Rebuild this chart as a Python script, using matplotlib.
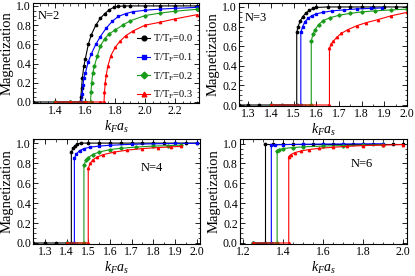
import numpy as np
import matplotlib
matplotlib.use("Agg")
import matplotlib.pyplot as plt
from matplotlib.ticker import MultipleLocator, AutoMinorLocator

plt.rcParams['font.family'] = ['Liberation Serif', 'DejaVu Serif']
plt.rcParams['mathtext.fontset'] = 'custom'
plt.rcParams['mathtext.rm'] = 'Liberation Serif'
plt.rcParams['mathtext.it'] = 'Liberation Serif:italic'

temps = ["0.0", "0.1", "0.2", "0.3"]
colors = ["black", "#0000ff", "#1a9a1a", "#ff0000"]
markers = ["o", "s", "D", "^"]

# N=2 (continuous onset)
n2_x = [
    [1.25, 1.40, 1.50, 1.565, 1.57, 1.575, 1.58, 1.59, 1.60, 1.62, 1.64, 1.67, 1.70, 1.73, 1.76, 1.79, 1.82, 1.86, 1.90, 2.0, 2.1, 2.2, 2.35],
    [1.40, 1.50, 1.575, 1.58, 1.585, 1.59, 1.60, 1.62, 1.64, 1.67, 1.70, 1.74, 1.78, 1.82, 1.87, 1.92, 2.0, 2.1, 2.2, 2.35],
    [1.40, 1.50, 1.60, 1.635, 1.638, 1.642, 1.65, 1.66, 1.68, 1.70, 1.73, 1.76, 1.80, 1.85, 1.90, 2.0, 2.1, 2.2, 2.35],
    [1.40, 1.50, 1.60, 1.70, 1.725, 1.728, 1.733, 1.74, 1.75, 1.77, 1.80, 1.83, 1.87, 1.92, 2.0, 2.1, 2.2, 2.35],
]
n2_y = [
    [0, 0, 0, 0, 0.05, 0.15, 0.25, 0.37, 0.45, 0.6, 0.7, 0.8, 0.87, 0.92, 0.96, 0.985, 0.995, 1.0, 1.0, 1.0, 1.0, 1.0, 1.0],
    [0, 0, 0, 0.08, 0.18, 0.25, 0.3, 0.42, 0.5, 0.6, 0.68, 0.77, 0.84, 0.89, 0.92, 0.94, 0.955, 0.967, 0.975, 0.985],
    [0, 0, 0, 0, 0.1, 0.2, 0.3, 0.37, 0.48, 0.58, 0.66, 0.71, 0.75, 0.80, 0.845, 0.9, 0.925, 0.945, 0.965],
    [0, 0, 0, 0, 0, 0.1, 0.2, 0.28, 0.37, 0.48, 0.57, 0.63, 0.69, 0.74, 0.8, 0.83, 0.865, 0.91],
]

# N=3
n3_x = [
    [1.26, 1.30, 1.35, 1.40, 1.45, 1.514, 1.514, 1.52, 1.53, 1.54, 1.555, 1.57, 1.585, 1.60, 1.65, 1.70, 1.75, 1.80, 1.85, 1.90, 1.95, 2.0],
    [1.40, 1.532, 1.532, 1.54, 1.55, 1.565, 1.58, 1.60, 1.63, 1.67, 1.72, 1.78, 1.84, 1.89],
    [1.40, 1.578, 1.578, 1.585, 1.595, 1.61, 1.63, 1.66, 1.70, 1.75, 1.80, 1.86, 1.93, 2.0],
    [1.40, 1.658, 1.658, 1.665, 1.675, 1.69, 1.71, 1.74, 1.78, 1.82, 1.87, 1.93, 2.0],
]
n3_y = [
    [0, 0, 0, 0, 0, 0, 0.74, 0.8, 0.86, 0.9, 0.94, 0.965, 0.985, 0.995, 1.0, 1.0, 1.0, 1.0, 1.0, 1.0, 1.0, 1.0],
    [0, 0, 0.74, 0.8, 0.85, 0.885, 0.91, 0.93, 0.945, 0.96, 0.97, 0.98, 0.985, 0.99],
    [0, 0, 0.65, 0.72, 0.77, 0.82, 0.86, 0.89, 0.915, 0.935, 0.95, 0.96, 0.97, 0.978],
    [0, 0, 0.58, 0.62, 0.65, 0.69, 0.73, 0.77, 0.81, 0.84, 0.87, 0.91, 0.945],
]

# N=4
n4_x = [
    [1.245, 1.30, 1.35, 1.40, 1.422, 1.422, 1.43, 1.44, 1.45, 1.465, 1.50, 1.55, 1.60, 1.65, 1.70, 1.75, 1.80, 1.85, 1.90, 1.95, 2.0],
    [1.40, 1.436, 1.436, 1.445, 1.46, 1.48, 1.51, 1.55, 1.60, 1.70, 1.80, 1.90, 2.0],
    [1.40, 1.48, 1.48, 1.49, 1.50, 1.52, 1.55, 1.60, 1.65, 1.72, 1.80, 1.87, 1.93],
    [1.40, 1.50, 1.50, 1.51, 1.52, 1.54, 1.57, 1.62, 1.68, 1.75, 1.82, 1.88, 1.93],
]
n4_y = [
    [0, 0, 0, 0, 0, 0.91, 0.95, 0.975, 0.99, 1.0, 1.0, 1.0, 1.0, 1.0, 1.0, 1.0, 1.0, 1.0, 1.0, 1.0, 1.0],
    [0, 0, 0.85, 0.89, 0.925, 0.945, 0.96, 0.97, 0.978, 0.988, 0.993, 0.996, 0.998],
    [0, 0, 0.78, 0.83, 0.855, 0.885, 0.91, 0.935, 0.948, 0.96, 0.97, 0.975, 0.98],
    [0, 0, 0.75, 0.8, 0.83, 0.86, 0.885, 0.91, 0.93, 0.945, 0.955, 0.962, 0.967],
]

# N=6
n6_x = [
    [1.25, 1.309, 1.309, 1.35, 1.40, 1.45, 1.50, 1.55, 1.60, 1.65, 1.70, 1.75, 1.80, 1.85, 1.90, 1.95, 2.0],
    [1.25, 1.342, 1.342, 1.36, 1.40, 1.50, 1.60, 1.70, 1.80, 1.90],
    [1.25, 1.371, 1.371, 1.38, 1.40, 1.45, 1.50, 1.60, 1.70, 1.80, 1.90],
    [1.25, 1.429, 1.429, 1.44, 1.46, 1.49, 1.53, 1.58, 1.65, 1.72, 1.80, 1.90, 2.0],
]
n6_y = [
    [0, 0, 1.0, 1.0, 1.0, 1.0, 1.0, 1.0, 1.0, 1.0, 1.0, 1.0, 1.0, 1.0, 1.0, 1.0, 1.0],
    [0, 0, 0.983, 0.987, 0.99, 0.993, 0.995, 0.996, 0.997, 0.998],
    [0, 0, 0.93, 0.94, 0.95, 0.96, 0.967, 0.975, 0.98, 0.984, 0.987],
    [0, 0, 0.87, 0.89, 0.91, 0.925, 0.94, 0.952, 0.963, 0.972, 0.98, 0.985, 0.99],
]

panels = [
    # data x, data y, label, label pos, xlim, ylim, x major, rect
    (n2_x, n2_y, "N=2", (1.28, 0.86), (1.25, 2.36), (-0.01, 1.03), 0.2, [0.0795, 0.627, 0.40, 0.362]),
    (n3_x, n3_y, "N=3", (1.285, 0.86), (1.26, 2.0), (-0.01, 1.04), 0.1, [0.576, 0.616, 0.405, 0.373]),
    (n4_x, n4_y, "N=4", (1.74, 0.72), (1.245, 2.015), (-0.01, 1.04), 0.1, [0.0795, 0.116, 0.402, 0.38]),
    (n6_x, n6_y, "N=6", (1.74, 0.76), (1.185, 2.02), (-0.01, 1.045), 0.2, [0.578, 0.116, 0.403, 0.38]),
]

fig = plt.figure(figsize=(4.15, 2.76), dpi=100)

for i, (xs, ys, name, pos, xl, yl, xmaj, rect) in enumerate(panels):
    ax = fig.add_axes(rect)
    for j in range(4):
        ax.plot(xs[j], ys[j], color=colors[j], marker=markers[j], markersize=1.7,
                linewidth=0.8, label="T/T$_\\mathrm{F}$=" + temps[j])
    ax.set_xlim(*xl)
    ax.set_ylim(*yl)
    ax.xaxis.set_major_locator(MultipleLocator(xmaj))
    ax.xaxis.set_minor_locator(AutoMinorLocator(4 if xmaj == 0.2 else 2))
    ax.yaxis.set_major_locator(MultipleLocator(0.2))
    ax.yaxis.set_minor_locator(AutoMinorLocator(4))
    ax.tick_params(which='both', direction='in', top=True, right=True, labelsize=8.5, pad=1.5)
    ax.tick_params(which='major', length=3.5, width=0.6)
    ax.tick_params(which='minor', length=1.8, width=0.5)
    for s in ax.spines.values():
        s.set_linewidth(0.8)
    ax.set_xlabel("$k_F a_s$", fontsize=10, labelpad=1)
    ax.set_ylabel("Magnetization", fontsize=10.5, labelpad=2)
    ax.text(pos[0], pos[1], name, fontsize=9)
    if i == 0:
        ax.legend(loc='center left', bbox_to_anchor=(0.585, 0.36), frameon=False,
                  fontsize=7.5, handlelength=1.2, handletextpad=0.3, labelspacing=0.6,
                  borderpad=0.2, markerscale=2.0)

fig.savefig("out.png", dpi=100)
